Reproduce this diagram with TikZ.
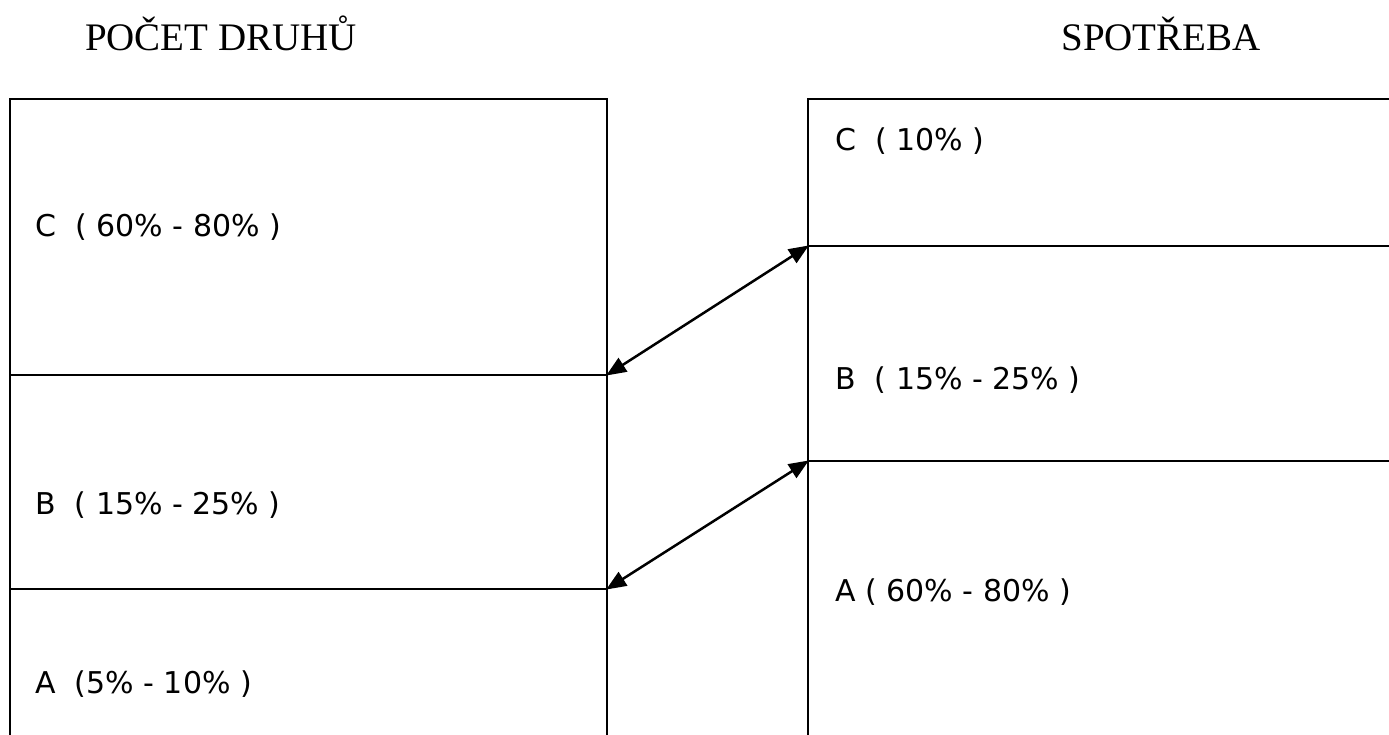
\documentclass[tikz,border=0pt]{standalone}
\usepackage{fontspec}
\setmainfont{Liberation Serif}
\newfontfamily\labelfont{DejaVu Sans}
\usetikzlibrary{arrows.meta}
\begin{document}
\begin{tikzpicture}[x=1pt,y=-1pt,
  section/.style={draw,line width=2pt,minimum width=597pt,inner sep=0pt,outer sep=0pt},
  rsection/.style={draw,line width=2pt,minimum width=592pt,inner sep=0pt,outer sep=0pt},
  lbl/.style={anchor=base west,inner sep=0pt,font=\labelfont\fontsize{30}{34}\selectfont},
  ttl/.style={anchor=base,inner sep=0pt,font=\fontsize{39}{44}\selectfont},
  link/.style={line width=2.5pt,{Triangle[length=20pt,width=16pt]}-{Triangle[length=20pt,width=16pt]},shorten <=-1pt,shorten >=-1pt}]
\useasboundingbox (0,0) rectangle (1389,734);
% titles
\node[ttl] (t1) at (221,50) {POČET DRUHŮ};
\node[ttl] (t2) at (1161,50) {SPOTŘEBA};
% left column
\node[section,minimum height=276pt] (lC) at (308.5,237) {};
\node[section,minimum height=214pt] (lB) at (308.5,482) {};
\node[section,minimum height=171pt] (lA) at (308.5,674.5) {};
% right column
\node[rsection,minimum height=147pt] (rC) at (1104,172.5) {};
\node[rsection,minimum height=215pt] (rB) at (1104,353.5) {};
\node[rsection,minimum height=299pt] (rA) at (1104,610.5) {};
% labels
\node[lbl] (lCt) at (35,236) {C\ \ ( 60\% - 80\% )};
\node[lbl] (lBt) at (35,514) {B\ \ ( 15\% - 25\% )};
\node[lbl] (lAt) at (35,693) {A\ \ (5\% - 10\% )};
\node[lbl] (rCt) at (835,150) {C\ \ ( 10\% )};
\node[lbl] (rBt) at (835,389) {B\ \ ( 15\% - 25\% )};
\node[lbl] (rAt) at (835,601) {A ( 60\% - 80\% )};
% links
\draw[link] (lC.south east) -- (rC.south west);
\draw[link] (lB.south east) -- (rB.south west);
\end{tikzpicture}
\end{document}
